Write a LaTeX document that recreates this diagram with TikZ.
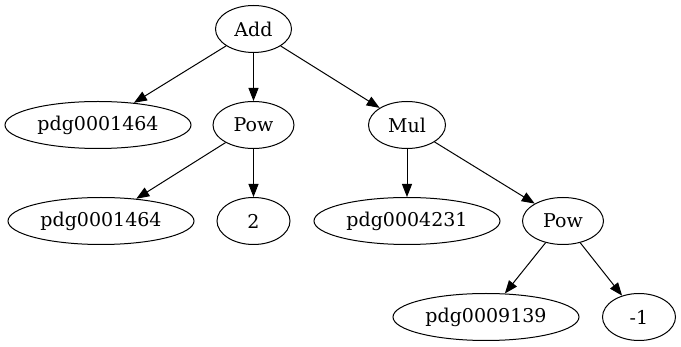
\documentclass[tikz,border=0pt]{standalone}
\usepackage{fontspec}
\setmainfont{DejaVu Serif}
\usetikzlibrary{shapes.geometric,arrows.meta}

\tikzset{
    term/.style={draw, ellipse, line width=1pt, inner sep=0pt,
        minimum height=47pt, font=\fontsize{19}{21}\selectfont},
    wide/.style={term, minimum width=186pt},
    narrow/.style={term, minimum width=73pt},
    edge/.style={line width=1pt, -{Triangle[length=13pt,width=10pt]}}
}

\begin{document}
\begin{tikzpicture}[x=1pt, y=-1pt]
        \useasboundingbox (0,0) rectangle (681,347);

        \node[narrow, minimum width=76pt] (add) at (253.5,29) {Add};
        \node[wide] (pdga) at (98,125) {pdg0001464};
        \node[narrow, minimum width=81pt] (powa) at (253.5,125) {Pow};
        \node[narrow, minimum width=77pt] (mul) at (407,125) {Mul};
        \node[wide] (pdgb) at (101,221) {pdg0001464};
        \node[narrow] (two) at (253.5,221) {2};
        \node[wide] (pdgc) at (407,221) {pdg0004231};
        \node[narrow, minimum width=81pt] (powb) at (563,221) {Pow};
        \node[wide] (pdgd) at (486,317) {pdg0009139};
        \node[narrow] (neg) at (639,317) {-1};

        \draw[edge] (add) -- (pdga);
        \draw[edge] (add) -- (powa);
        \draw[edge] (add) -- (mul);
        \draw[edge] (powa) -- (pdgb);
        \draw[edge] (powa) -- (two);
        \draw[edge] (mul) -- (pdgc);
        \draw[edge] (mul) -- (powb);
        \draw[edge] (powb) -- (pdgd);
        \draw[edge] (powb) -- (neg);
\end{tikzpicture}
\end{document}
